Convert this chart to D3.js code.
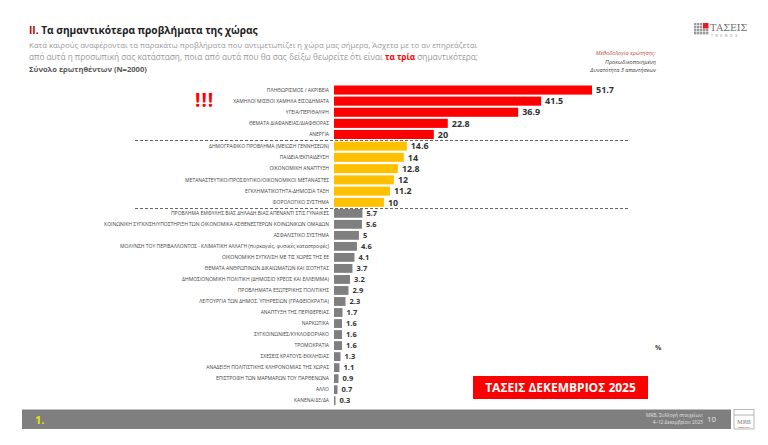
<!DOCTYPE html>
<html><head><meta charset="utf-8">
<script src="https://cdn.jsdelivr.net/npm/d3@7/dist/d3.min.js"></script>
<style>html,body{margin:0;padding:0;background:#fff;}svg{display:block;font-family:"Open Sans",sans-serif;}</style>
</head><body><svg id="c" width="768" height="445"></svg>
<script>
const redCats = ["ΠΛΗΘΩΡΙΣΜΟΣ / ΑΚΡΙΒΕΙΑ","ΧΑΜΗΛΟΙ ΜΙΣΘΟΙ ΧΑΜΗΛΑ ΕΙΣΟΔΗΜΑΤΑ","ΥΓΕΙΑ/ΠΕΡΙΘΑΛΨΗ","ΘΕΜΑΤΑ ΔΙΑΦΑΝΕΙΑΣ/ΔΙΑΦΘΟΡΑΣ","ΑΝΕΡΓΙΑ"];
const redVals = [51.7,41.5,36.9,22.8,20];
const yellowCats = ["ΔΗΜΟΓΡΑΦΙΚΟ ΠΡΟΒΛΗΜΑ (ΜΕΙΩΣΗ ΓΕΝΝΗΣΕΩΝ)","ΠΑΙΔΕΙΑ/ΕΚΠΑΙΔΕΥΣΗ","ΟΙΚΟΝΟΜΙΚΗ ΑΝΑΠΤΥΞΗ","ΜΕΤΑΝΑΣΤΕΥΤΙΚΟ/ΠΡΟΣΦΥΓΙΚΟ/ΟΙΚΟΝΟΜΙΚΟΙ ΜΕΤΑΝΑΣΤΕΣ","ΕΓΚΛΗΜΑΤΙΚΟΤΗΤΑ-ΔΗΜΟΣΙΑ ΤΑΞΗ","ΦΟΡΟΛΟΓΙΚΟ ΣΥΣΤΗΜΑ"];
const yellowVals = [14.6,14,12.8,12,11.2,10];
const greyCats = ["ΠΡΟΒΛΗΜΑ ΕΜΦΥΛΗΣ ΒΙΑΣ ΔΗΛΑΔΗ ΒΙΑΣ ΑΠΕΝΑΝΤΙ ΣΤΙΣ ΓΥΝΑΙΚΕΣ","ΚΟΙΝΩΝΙΚΗ ΣΥΓΚΛΙΣΗ/ΥΠΟΣΤΗΡΙΞΗ ΤΩΝ ΟΙΚΟΝΟΜΙΚΑ ΑΣΘΕΝΕΣΤΕΡΩΝ ΚΟΙΝΩΝΙΚΩΝ ΟΜΑΔΩΝ","ΑΣΦΑΛΙΣΤΙΚΟ ΣΥΣΤΗΜΑ","ΜΟΛΥΝΣΗ ΤΟΥ ΠΕΡΙΒΑΛΛΟΝΤΟΣ - ΚΛΙΜΑΤΙΚΗ ΑΛΛΑΓΗ (πυρκαγιές, φυσικές καταστροφές)","ΟΙΚΟΝΟΜΙΚΗ ΣΥΓΚΛΙΣΗ ΜΕ ΤΙΣ ΧΩΡΕΣ ΤΗΣ ΕΕ","ΘΕΜΑΤΑ ΑΝΘΡΩΠΙΝΩΝ ΔΙΚΑΙΩΜΑΤΩΝ ΚΑΙ ΙΣΟΤΗΤΑΣ","ΔΗΜΟΣΙΟΝΟΜΙΚΗ ΠΟΛΙΤΙΚΗ (ΔΗΜΟΣΙΟ ΧΡΕΟΣ ΚΑΙ ΕΛΛΕΙΜΜΑ)","ΠΡΟΒΛΗΜΑΤΑ ΕΞΩΤΕΡΙΚΗΣ ΠΟΛΙΤΙΚΗΣ","ΛΕΙΤΟΥΡΓΙΑ ΤΩΝ ΔΗΜΟΣ. ΥΠΗΡΕΣΙΩΝ (ΓΡΑΦΕΙΟΚΡΑΤΙΑ)","ΑΝΑΠΤΥΞΗ ΤΗΣ ΠΕΡΙΦΕΡΕΙΑΣ","ΝΑΡΚΩΤΙΚΑ","ΣΥΓΚΟΙΝΩΝΙΕΣ/ΚΥΚΛΟΦΟΡΙΑΚΟ","ΤΡΟΜΟΚΡΑΤΙΑ","ΣΧΕΣΕΙΣ ΚΡΑΤΟΥΣ-ΕΚΚΛΗΣΙΑΣ","ΑΝΑΔΕΙΞΗ ΠΟΛΙΤΙΣΤΙΚΗΣ ΚΛΗΡΟΝΟΜΙΑΣ ΤΗΣ ΧΩΡΑΣ","ΕΠΙΣΤΡΟΦΗ ΤΩΝ ΜΑΡΜΑΡΩΝ ΤΟΥ ΠΑΡΘΕΝΩΝΑ","ΑΛΛΟ","ΚΑΝΕΝΑ/ΔΞ/ΔΑ"];
const greyVals = [5.7,5.6,5,4.6,4.1,3.7,3.2,2.9,2.3,1.7,1.6,1.6,1.6,1.3,1.1,0.9,0.7,0.3];

const svg = d3.select("#c");
const x = d3.scaleLinear().domain([0, 51.7]).range([334, 592]);

const groups = [
  {cats: redCats, vals: redVals, color: "#ff0000", range: [84.5, 140], pad: 0.18, fs: 9},
  {cats: yellowCats, vals: yellowVals, color: "#ffc000", range: [140.5, 208], pad: 0.2, fs: 8.8},
  {cats: greyCats, vals: greyVals, color: "#7f7f7f", range: [207.8, 406.2], pad: 0.2, fs: 7.5}
];

groups.forEach(g => {
  const data = g.cats.map((c, i) => ({c, v: g.vals[i]}));
  const y = d3.scaleBand().domain(g.cats).range(g.range).paddingInner(g.pad).paddingOuter(g.pad/2);
  const gg = svg.append("g");
  gg.selectAll("rect").data(data).join("rect")
    .attr("x", x(0)).attr("y", d => y(d.c))
    .attr("width", d => x(d.v) - x(0)).attr("height", y.bandwidth())
    .attr("fill", g.color);
  gg.selectAll("text.val").data(data).join("text").attr("class","val")
    .attr("x", d => x(d.v) + 4).attr("y", d => y(d.c) + y.bandwidth()/2)
    .attr("dy", "0.36em").attr("font-size", g.fs).attr("font-weight", "bold").attr("fill", "#333")
    .text(d => d.v);
  gg.selectAll("text.lab").data(data).join("text").attr("class","lab")
    .attr("x", 329).attr("y", d => y(d.c) + y.bandwidth()/2)
    .attr("dy", "0.36em").attr("text-anchor", "end").attr("font-size", 5).attr("fill", "#444")
    .text(d => d.c);
});

// dashed separators
[140.5, 208.5].forEach(yy => {
  svg.append("line").attr("x1", 135).attr("x2", 630).attr("y1", yy).attr("y2", yy)
    .attr("stroke", "#666").attr("stroke-width", 1.2).attr("stroke-dasharray", "3,2");
});

// exclamation
svg.append("text").attr("x", 195).attr("y", 107).attr("font-size", 19).attr("font-weight", "bold")
  .attr("fill", "#ff0000").attr("letter-spacing", 1).text("!!!");

function fit(sel, w) {
  const n = sel.node(); const L = n.getComputedTextLength();
  const fs = parseFloat(sel.attr("font-size"));
  sel.attr("font-size", fs * w / L);
}

// title
const t = svg.append("text").attr("x", 29).attr("y", 34).attr("font-size", 13).attr("font-weight", "bold").attr("fill", "#222");
t.append("tspan").attr("fill", "#c00000").text("II. ");
t.append("tspan").text("Τα σημαντικότερα προβλήματα της χώρας");
fit(t, 229);

const s1 = svg.append("text").attr("x", 29).attr("y", 48).attr("font-size", 8).attr("fill", "#9a9a9a")
  .text("Κατά καιρούς αναφέρονται τα παρακάτω προβλήματα που αντιμετωπίζει η χώρα μας σήμερα, Άσχετα με το αν επηρεάζεται");
fit(s1, 449);
const s2 = svg.append("text").attr("x", 29).attr("y", 60).attr("font-size", 8).attr("fill", "#9a9a9a");
s2.append("tspan").text("από αυτά η προσωπική σας κατάσταση, ποια από αυτά που θα σας δείξω θεωρείτε ότι είναι ");
s2.append("tspan").attr("fill", "#ff0000").attr("font-weight", "bold").text("τα τρία");
s2.append("tspan").text(" σημαντικότερα;");
fit(s2, 450);
const s3 = svg.append("text").attr("x", 29).attr("y", 72).attr("font-size", 8).attr("font-weight", "bold").attr("fill", "#595959")
  .text("Σύνολο ερωτηθέντων (N=2000)");
fit(s3, 118);

// methodology note
const mt = [["Μεθοδολογία ερώτησης:", "#c0504d", 55], ["Προκωδικοποιημένη", "#444", 63.5], ["Δυνατότητα 3 απαντήσεων", "#444", 72]];
mt.forEach(m => svg.append("text").attr("x", 656).attr("y", m[2]).attr("text-anchor", "end")
  .attr("font-size", 5.6).attr("font-style", "italic").attr("fill", m[1]).text(m[0]));

// logo
const lg = svg.append("g");
for (let i = 0; i < 4; i++) for (let j = 0; j < 5; j++)
  lg.append("rect").attr("x", 694 + j * 3).attr("y", 23 + i * 3).attr("width", 2.4).attr("height", 2.4).attr("fill", "#9a9a9a");
lg.append("rect").attr("x", 703).attr("y", 23).attr("width", 5.4).attr("height", 5.4).attr("fill", "#e31e24");
lg.append("text").attr("x", 710).attr("y", 31).attr("font-family", "DejaVu Serif").attr("font-size", 9.5).attr("fill", "#6d6d6d").text("ΤΑΣΕΙΣ");
lg.append("text").attr("x", 711).attr("y", 36.5).attr("font-size", 3.5).attr("letter-spacing", 2.6).attr("fill", "#888").text("TRENDS");

// percent sign
svg.append("text").attr("x", 655).attr("y", 350).attr("font-size", 7).attr("font-weight", "bold").attr("fill", "#444").text("%");

// red box
svg.append("rect").attr("x", 473).attr("y", 376).attr("width", 175).attr("height", 23).attr("fill", "#ff0000");
svg.append("text").attr("x", 560.5).attr("y", 387.5).attr("dy", "0.36em").attr("text-anchor", "middle")
  .attr("font-size", 12).attr("font-weight", "bold").attr("fill", "#fff").text("ΤΑΣΕΙΣ ΔΕΚΕΜΒΡΙΟΣ 2025");

// footer
svg.append("rect").attr("x", 22).attr("y", 409.5).attr("width", 709).attr("height", 19.5).attr("fill", "#7f7f7f");
svg.append("text").attr("x", 35).attr("y", 424).attr("font-size", 11).attr("font-weight", "bold").attr("fill", "#e6e600").text("1.");
svg.append("text").attr("x", 703).attr("y", 417).attr("text-anchor", "end").attr("font-size", 4.8).attr("fill", "#e0e0e0").text("MRB, Συλλογή στοιχείων:");
svg.append("text").attr("x", 703).attr("y", 424).attr("text-anchor", "end").attr("font-size", 4.8).attr("fill", "#e0e0e0").text("4–12 Δεκεμβρίου 2025");
svg.append("text").attr("x", 707).attr("y", 421.5).attr("font-size", 8).attr("fill", "#e6e6e6").text("10");
svg.append("rect").attr("x", 734).attr("y", 409.5).attr("width", 20).attr("height", 19.5).attr("fill", "#fff").attr("stroke", "#888").attr("stroke-width", 0.6);
svg.append("line").attr("x1", 734).attr("x2", 754).attr("y1", 415).attr("y2", 415).attr("stroke", "#888").attr("stroke-width", 0.6);
svg.append("text").attr("x", 744).attr("y", 424).attr("text-anchor", "middle").attr("font-family", "DejaVu Serif").attr("font-size", 5.5).attr("fill", "#777").text("MRB");
svg.append("text").attr("x", 744).attr("y", 428).attr("text-anchor", "middle").attr("font-size", 2.5).attr("fill", "#c00").text("RESEARCH");
</script></body></html>
